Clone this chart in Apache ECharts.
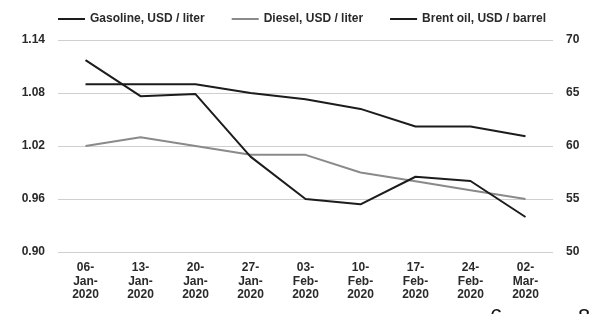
<!DOCTYPE html>
<html>
<head>
    <meta charset="utf-8">
    <title>Fuel prices</title>
    <script src="https://cdn.jsdelivr.net/npm/echarts@6/dist/echarts.min.js"></script>
    <style>
        html, body { margin: 0; padding: 0; background: #fff; }
        #chart1 { width: 589px; height: 314px; }
    </style>
</head>
<body>
    <div id="chart1"></div>
<script>
    // 周数据
    var weeks = ['06-\nJan-\n2020', '13-\nJan-\n2020', '20-\nJan-\n2020', '27-\nJan-\n2020', '03-\nFeb-\n2020',
                 '10-\nFeb-\n2020', '17-\nFeb-\n2020', '24-\nFeb-\n2020', '02-\nMar-\n2020'];
    var gasoline = [1.09, 1.09, 1.09, 1.08, 1.073, 1.062, 1.042, 1.042, 1.031];
    var diesel = [1.02, 1.03, 1.02, 1.01, 1.01, 0.99, 0.98, 0.97, 0.96];
    var brent = [68.1, 64.7, 64.9, 59.0, 55.0, 54.5, 57.1, 56.7, 53.3];
    var leftTicks = { min: 0.90, max: 1.14, step: 0.06 };
    var rightTicks = { min: 50, max: 70, step: 5 };

    var labelFont = { fontFamily: 'Liberation Sans', fontSize: 12, fontWeight: 'bold', color: '#2a2a2a' };

    var myChart1 = echarts.init(document.getElementById('chart1'));
    myChart1.setOption({
        animation: false,
        legend: {
            top: 8,
            left: 53,
            itemWidth: 27,
            itemHeight: 2,
            itemGap: 27,
            icon: 'rect',
            textStyle: labelFont,
            data: ['Gasoline, USD / liter', 'Diesel, USD / liter', 'Brent oil, USD / barrel']
        },
        grid: { left: 58, right: 36, top: 40, bottom: 62 },
        xAxis: {
            type: 'category',
            data: weeks,
            axisLine: { show: false },
            axisTick: { show: false },
            axisLabel: Object.assign({ margin: 9, lineHeight: 13.5, interval: 0 }, labelFont)
        },
        yAxis: [{
            type: 'value',
            min: leftTicks.min, max: leftTicks.max, interval: leftTicks.step,
            axisLine: { show: false },
            axisTick: { show: false },
            splitLine: { lineStyle: { color: '#cfcfcf', width: 1 } },
            axisLabel: Object.assign({ margin: 13, formatter: function (v) { return v.toFixed(2); } }, labelFont)
        }, {
            type: 'value',
            min: rightTicks.min, max: rightTicks.max, interval: rightTicks.step,
            axisLine: { show: false },
            axisTick: { show: false },
            splitLine: { show: false },
            axisLabel: Object.assign({ margin: 13 }, labelFont)
        }],
        series: [{
            name: 'Gasoline, USD / liter',
            type: 'line',
            data: gasoline,
            symbol: 'none',
            itemStyle: { color: '#1c1c1c' },
            lineStyle: { color: '#1c1c1c', width: 2 }
        }, {
            name: 'Diesel, USD / liter',
            type: 'line',
            data: diesel,
            symbol: 'none',
            itemStyle: { color: '#8a8a8a' },
            lineStyle: { color: '#8a8a8a', width: 2 }
        }, {
            name: 'Brent oil, USD / barrel',
            type: 'line',
            yAxisIndex: 1,
            data: brent,
            symbol: 'none',
            itemStyle: { color: '#1c1c1c' },
            lineStyle: { color: '#1c1c1c', width: 2 }
        }],
        // 底部被裁掉的字符
        graphic: [
            { type: 'text', left: 490, top: 307, style: { text: '6', font: '22px Liberation Sans', fill: '#111' } },
            { type: 'text', left: 578, top: 307, style: { text: '8', font: '22px Liberation Sans', fill: '#111' } }
        ]
    });
</script>
</body>
</html>
